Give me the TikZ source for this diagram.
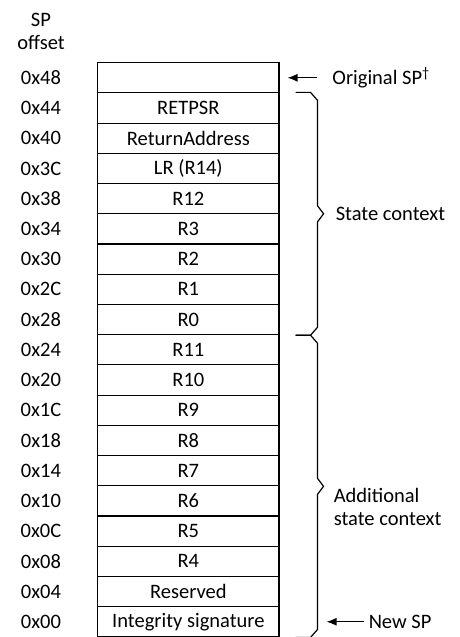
\documentclass[tikz,border=0pt]{standalone}
\usepackage{fontspec}
\setmainfont{Carlito}
\usetikzlibrary{calc, arrows.meta}

\begin{document}
\begin{tikzpicture}[x=1pt, y=-1pt,
  font=\fontsize{20.5}{23}\selectfont,
  cell/.style={draw, line width=1.1pt, minimum width=181.3pt, minimum height=30.22pt, inner sep=0pt},
  offlbl/.style={inner sep=0pt},
  note/.style={inner sep=0pt, anchor=west, align=left},
  ptr/.style={-{Latex[length=10pt,width=8pt]}, line width=1.2pt},
  brace/.style={line width=1.2pt, line join=miter}]
\useasboundingbox (0,0) rectangle (459,637);
% Column heading
\node[align=center, inner sep=0pt] (head) at (41,31) {SP\\offset};
% Stack frame, one row per word
\foreach \off/\txt [count=\i from 0] in {48/{}, 44/RETPSR, 40/ReturnAddress, 3C/{LR (R14)}, 38/R12, 34/R3, 30/R2, 2C/R1, 28/R0, 24/R11, 20/R10, 1C/R9, 18/R8, 14/R7, 10/R6, 0C/R5, 08/R4, 04/Reserved, 00/Integrity signature}
{
  \node[cell] (r\off) at (188.35, {62.7+30.22*(\i+0.5)}) {\txt};
  \node[offlbl] (o\off) at (41, {62.7+30.22*(\i+0.5)}) {0x\off};
}
% Brace for state context
\coordinate (ctop) at ($(r44.north east)+(16,0)$);
\coordinate (cmid) at ($(r28.south east)+(16,0)$);
\coordinate (ctip) at ($(ctop)!0.5!(cmid)+(28,0)$);
\draw[brace] (ctop) -- ++(15,0) -- ++(7,8) -- ($(ctip)+(-6,-8)$) -- (ctip) -- ++(-6,8) -- ($(cmid)+(22,-8)$) -- ++(-7,8) -- (cmid);
\node[note] (state) at ($(ctip)+(12,0)$) {State context};
% Brace for additional state context
\coordinate (cbot) at ($(r00.south east)+(16,0)$);
\coordinate (atip) at ($(cmid)!0.5!(cbot)+(28,0)$);
\draw[brace] (cmid) -- ++(15,0) -- ++(7,8) -- ($(atip)+(-6,-8)$) -- (atip) -- ++(-6,8) -- ($(cbot)+(22,-8)$) -- ++(-7,8) -- (cbot);
\node[note] (extra) at ($(atip)+(10,21)$) {Additional\\state context};
% Stack pointers
\node[note] (osp) at ($(r48.east)+(52.7,0)$) {Original SP\textsuperscript{†}};
\draw[ptr, shorten <=15.7pt] (osp.west) -- ($(r48.east)+(8,0)$);
\node[note] (nsp) at ($(r00.east)+(89,0)$) {New SP};
\draw[ptr, shorten <=5pt] (nsp.west) -- ($(r00.east)+(47,0)$);
\end{tikzpicture}
\end{document}
